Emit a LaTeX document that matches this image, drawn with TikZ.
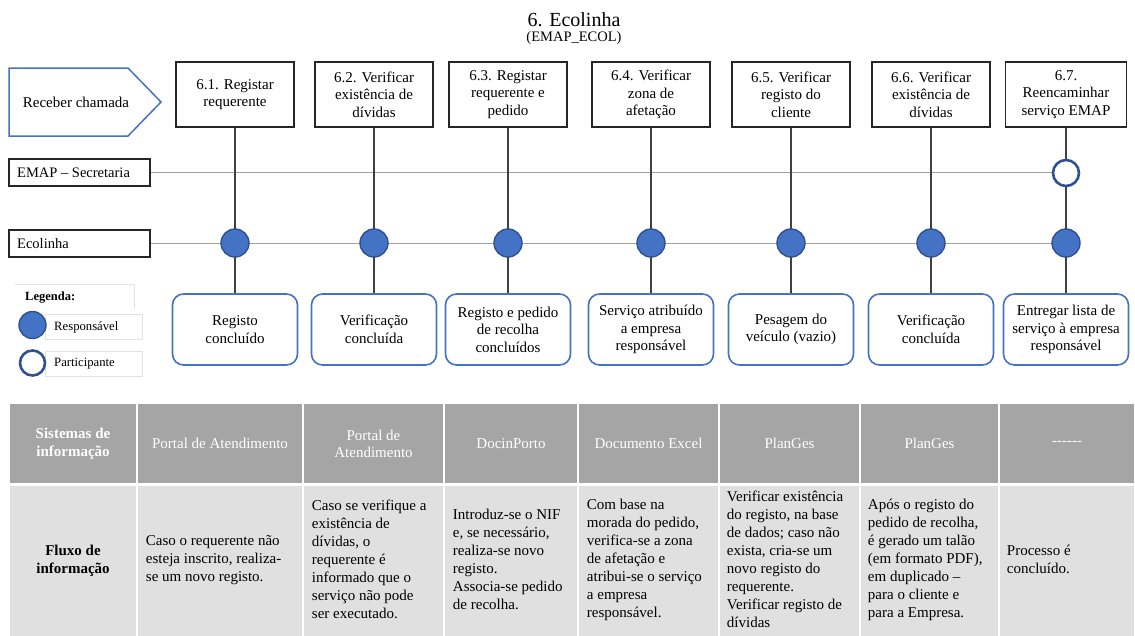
\documentclass[tikz,border=0pt]{standalone}
\usepackage{fontspec}
\setmainfont{Liberation Serif}
\usetikzlibrary{backgrounds}

\definecolor{accent}{HTML}{4472C4}
\definecolor{accentdark}{HTML}{2F528F}
\definecolor{headgray}{HTML}{A5A5A5}
\definecolor{bodygray}{HTML}{E0E0E0}
\definecolor{lanegray}{HTML}{A0A0A0}
\definecolor{stemgray}{HTML}{404040}
\definecolor{legendline}{HTML}{E2E2E2}

\begin{document}
\begin{tikzpicture}[x=1pt,y=-1pt,
  txt/.style={font=\fontsize{15}{17.5}\selectfont, align=center},
  topbox/.style={txt, draw=black!85, line width=1.1pt, minimum width=118pt, minimum height=65pt, inner sep=1pt},
  outbox/.style={txt, draw=accent, line width=1.6pt, rounded corners=11pt, minimum width=125pt, minimum height=71pt, inner sep=1pt, fill=white},
  lanebox/.style={draw=black!85, line width=1.1pt, minimum width=141pt, minimum height=27pt, inner sep=0pt},
  lanetext/.style={font=\fontsize{14.5}{17}\selectfont, anchor=west, inner sep=0pt},
  resp/.style={circle, fill=accent, draw=accentdark, line width=1.4pt, minimum size=28pt, inner sep=0pt},
  part/.style={circle, fill=white, draw=accentdark, line width=2.6pt, minimum size=26pt, inner sep=0pt},
  laneline/.style={draw=lanegray, line width=1.4pt},
  stem/.style={draw=stemgray, line width=1.4pt},
  legtext/.style={font=\fontsize{12.7}{15}\selectfont, anchor=west, inner sep=0pt},
  hcell/.style={fill=headgray, draw=white, line width=2.5pt, minimum height=81.5pt, inner sep=0pt,
                text=white, font=\fontsize{15}{17.5}\selectfont, align=center},
  bcell/.style={fill=bodygray, draw=white, line width=2.5pt, minimum height=152.5pt, inner sep=0pt,
                font=\fontsize{15}{18}\selectfont, align=center},
  btext/.style={font=\fontsize{15}{18}\selectfont, align=left, anchor=west, inner sep=0pt}
]
\useasboundingbox (0,0) rectangle (1135,635);

% title
\node[font=\fontsize{20}{24}\selectfont, inner sep=0pt] (title) at (574,20) {6. Ecolinha};
\node[font=\fontsize{14.5}{17}\selectfont, inner sep=0pt] (subtitle) at (574,38) {(EMAP\_ECOL)};

% start event (pentagon)
\draw[accent, line width=1.5pt] (9,68) -- (128,68) -- (161,102) -- (128,136) -- (9,136) -- cycle;
\node[txt, inner sep=0pt] (start) at (76,102) {Receber chamada};

% lane labels
\node[lanebox] (lane1) at (79.5,172.5) {};
\node[lanetext] (lane1t) at (17,172.5) {EMAP – Secretaria};
\node[lanebox] (lane2) at (79.5,243.5) {};
\node[lanetext] (lane2t) at (17,243.5) {Ecolinha};

% activity boxes
\node[topbox] (t1) at (235,94.5) {6.1. Registar\\requerente};
\node[topbox] (t2) at (374,94.5) {6.2. Verificar\\existência de\\dívidas};
\node[topbox] (t3) at (508,94.5) {6.3. Registar\\requerente e\\pedido};
\node[topbox] (t4) at (651,94.5) {6.4. Verificar\\zona de\\afetação};
\node[topbox] (t5) at (791,94.5) {6.5. Verificar\\registo do\\cliente};
\node[topbox] (t6) at (931,94.5) {6.6. Verificar\\existência de\\dívidas};
\node[topbox, minimum width=121pt] (t7) at (1066,94.5) {6.7.\\Reencaminhar\\serviço EMAP};

% result boxes
\node[outbox] (b1) at (235,329.5) {Registo\\concluído};
\node[outbox] (b2) at (374,329.5) {Verificação\\concluída};
\node[outbox] (b3) at (508,329.5) {Registo e pedido\\de recolha\\concluídos};
\node[outbox] (b4) at (651,329.5) {Serviço atribuído\\a empresa\\responsável};
\node[outbox] (b5) at (791,329.5) {Pesagem do\\veículo (vazio)};
\node[outbox] (b6) at (931,329.5) {Verificação\\concluída};
\node[outbox] (b7) at (1066,329.5) {Entregar lista de\\serviço à empresa\\responsável};

% responsibility markers
\node[part] (p7) at (1066,173) {};
\node[resp] (r1) at (235,243) {};
\node[resp] (r2) at (374,243) {};
\node[resp] (r3) at (508,243) {};
\node[resp] (r4) at (651,243) {};
\node[resp] (r5) at (791,243) {};
\node[resp] (r6) at (931,243) {};
\node[resp] (r7) at (1066,243) {};

% lane lines and stems, behind the markers
\begin{pgfonlayer}{background}
  \draw[laneline] (lane1.east) -- (lane1.east -| p7.center);
  \draw[laneline] (lane2.east) -- (lane2.east -| r7.center);
  \foreach \i in {1,...,7} {
    \draw[stem] (t\i.south) -- (b\i.north);
  }
\end{pgfonlayer}

% legend
\draw[legendline, line width=0.8pt] (15,284) -- (134,284) -- (134,309);
\node[legtext, font=\bfseries\fontsize{12.5}{15}\selectfont] (legtitle) at (25,298) {Legenda:};
\node[draw=legendline, line width=0.8pt, minimum width=97pt, minimum height=25pt, inner sep=0pt] (legbox1) at (93.5,326.5) {};
\node[draw=legendline, line width=0.8pt, minimum width=97pt, minimum height=25pt, inner sep=0pt] (legbox2) at (93.5,363.5) {};
\node[resp, minimum size=27pt] (legresp) at (32.5,325) {};
\node[part, minimum size=25pt] (legpart) at (32.5,363) {};
\node[legtext] (legrespt) at (54,327) {Responsável};
\node[legtext] (legpartt) at (54,364) {Participante};

% information table: header row
\node[hcell, minimum width=128pt] (h1) at (73,443.75) {\bfseries Sistemas de\\\bfseries informação};
\node[hcell, minimum width=166pt] (h2) at (220,443.75) {Portal de Atendimento};
\node[hcell, minimum width=141pt] (h3) at (373.5,443.75) {Portal de\\Atendimento};
\node[hcell, minimum width=134pt] (h4) at (511,443.75) {DocinPorto};
\node[hcell, minimum width=141pt] (h5) at (648.5,443.75) {Documento Excel};
\node[hcell, minimum width=141pt] (h6) at (789.5,443.75) {PlanGes};
\node[hcell, minimum width=139pt] (h7) at (929.5,443.75) {PlanGes};
\node[hcell, minimum width=136pt] (h8) at (1067,443.75) {{-}{-}{-}{-}{-}{-}};

% information table: body row
\node[bcell, minimum width=128pt] (f1) at (73,560.75) {\bfseries Fluxo de\\\bfseries informação};
\node[bcell, minimum width=166pt] (f2) at (220,560.75) {};
\node[bcell, minimum width=141pt] (f3) at (373.5,560.75) {};
\node[bcell, minimum width=134pt] (f4) at (511,560.75) {};
\node[bcell, minimum width=141pt] (f5) at (648.5,560.75) {};
\node[bcell, minimum width=141pt] (f6) at (789.5,560.75) {};
\node[bcell, minimum width=139pt] (f7) at (929.5,560.75) {};
\node[bcell, minimum width=136pt] (f8) at (1067,560.75) {};

\node[btext] (f2t) at ([xshift=10pt,yshift=1pt]f2.west) {Caso o requerente não\\esteja inscrito, realiza-\\se um novo registo.};
\node[btext] (f3t) at ([xshift=10pt,yshift=1pt]f3.west) {Caso se verifique a\\existência de\\dívidas, o\\requerente é\\informado que o\\serviço não pode\\ser executado.};
\node[btext] (f4t) at ([xshift=10pt,yshift=1pt]f4.west) {Introduz-se o NIF\\e, se necessário,\\realiza-se novo\\registo.\\Associa-se pedido\\de recolha.};
\node[btext] (f5t) at ([xshift=10pt,yshift=1pt]f5.west) {Com base na\\morada do pedido,\\verifica-se a zona\\de afetação e\\atribui-se o serviço\\a empresa\\responsável.};
\node[btext] (f6t) at ([xshift=9pt,yshift=1pt]f6.west) {Verificar existência\\do registo, na base\\de dados; caso não\\exista, cria-se um\\novo registo do\\requerente.\\Verificar registo de\\dívidas};
\node[btext] (f7t) at ([xshift=9pt,yshift=1pt]f7.west) {Após o registo do\\pedido de recolha,\\é gerado um talão\\(em formato PDF),\\em duplicado –\\para o cliente e\\para a Empresa.};
\node[btext] (f8t) at ([xshift=9pt,yshift=1pt]f8.west) {Processo é\\concluído.};
\end{tikzpicture}
\end{document}
